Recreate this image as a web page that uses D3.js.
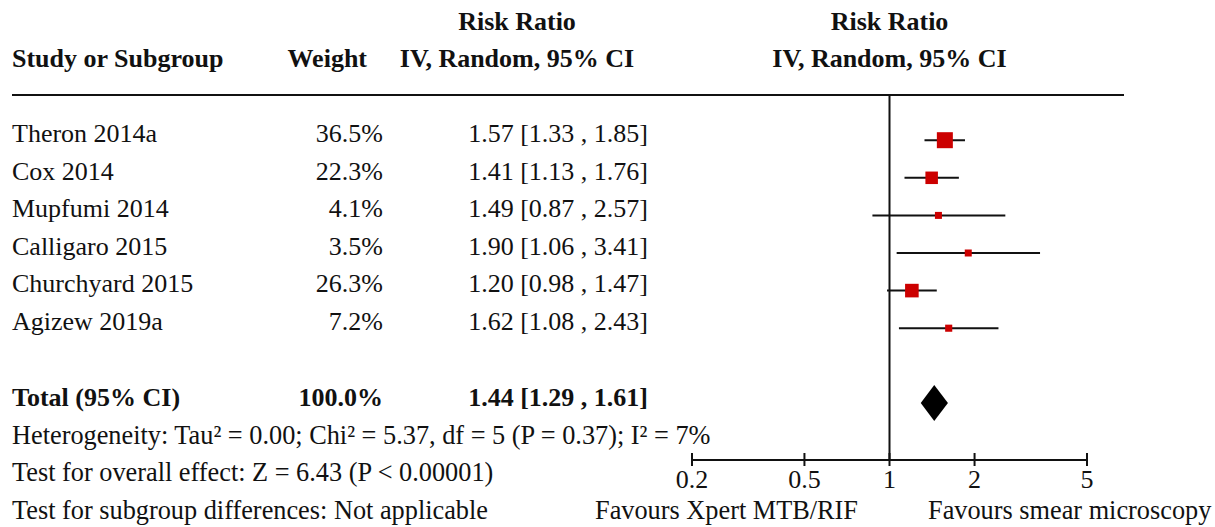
<!DOCTYPE html>
<html>
<head>
<meta charset="utf-8">
<script src="https://cdn.jsdelivr.net/npm/d3@7"></script>
<style>
  html, body { margin: 0; padding: 0; background: #fff; }
  svg text { font-family: "Liberation Serif", "Times New Roman", serif; fill: #111; }
</style>
</head>
<body>
<svg id="chart" width="1215" height="527"></svg>
<script>
// Study-level data: risk ratios (IV, random effects) with 95% CI
const studies = ["Theron 2014a", "Cox 2014", "Mupfumi 2014", "Calligaro 2015", "Churchyard 2015", "Agizew 2019a"];
const weights = [36.5, 22.3, 4.1, 3.5, 26.3, 7.2];
const rr      = [1.57, 1.41, 1.49, 1.90, 1.20, 1.62];
const ciLow   = [1.33, 1.13, 0.87, 1.06, 0.98, 1.08];
const ciHigh  = [1.85, 1.76, 2.57, 3.41, 1.47, 2.43];

// Pooled estimate
const totalWeight = 100.0;
const totalRR = 1.44, totalLow = 1.29, totalHigh = 1.61;

// Axis ticks
const ticks = [0.2, 0.5, 1, 2, 5];

const headerLines = ["Risk Ratio", "IV, Random, 95% CI"];
const heterogeneity = "Heterogeneity: Tau² = 0.00; Chi² = 5.37, df = 5 (P = 0.37); I² = 7%";
const overallTest = "Test for overall effect: Z = 6.43 (P < 0.00001)";
const subgroupTest = "Test for subgroup differences: Not applicable";
const favourLeft = "Favours Xpert MTB/RIF";
const favourRight = "Favours smear microscopy";

const svg = d3.select("#chart");
const FS = 26, FS_FOOT = 26.3;
const f2 = d3.format(".2f"), f1 = d3.format(".1f");

const x = d3.scaleLog().domain([0.2, 5]).range([692, 1087]);
const rowY = d3.scaleLinear().domain([0, 1]).range([142, 179.6]);
const size = d3.scaleSqrt().domain([0, 36.5]).range([0, 16]);

const axisY = 460, topLine = 95;

// Header
const hdr = svg.append("g").style("font-weight", "bold").style("font-size", FS + "px");
hdr.append("text").attr("x", 12).attr("y", 67).text("Study or Subgroup");
hdr.append("text").attr("x", 367).attr("y", 67).attr("text-anchor", "end").text("Weight");
hdr.append("text").attr("x", 517).attr("y", 30).attr("text-anchor", "middle").text(headerLines[0]);
hdr.append("text").attr("x", 517).attr("y", 67).attr("text-anchor", "middle").text(headerLines[1]);
hdr.append("text").attr("x", x(1)).attr("y", 30).attr("text-anchor", "middle").text(headerLines[0]);
hdr.append("text").attr("x", x(1)).attr("y", 67).attr("text-anchor", "middle").text(headerLines[1]);

svg.append("line").attr("x1", 12).attr("x2", 1124).attr("y1", topLine).attr("y2", topLine)
  .attr("stroke", "#111").attr("stroke-width", 2);

// Line of no effect
svg.append("line").attr("x1", x(1)).attr("x2", x(1)).attr("y1", topLine).attr("y2", axisY)
  .attr("stroke", "#111").attr("stroke-width", 2);

// Study rows
const rows = svg.append("g").style("font-size", FS + "px");
studies.forEach((s, i) => {
  const y = rowY(i);
  rows.append("text").attr("x", 12).attr("y", y).text(s);
  rows.append("text").attr("x", 383).attr("y", y).attr("text-anchor", "end").text(f1(weights[i]) + "%");
  rows.append("text").attr("x", 648).attr("y", y).attr("text-anchor", "end")
    .text(`${f2(rr[i])} [${f2(ciLow[i])} , ${f2(ciHigh[i])}]`);

  const cy = y - 1.8;
  svg.append("line").attr("x1", x(ciLow[i])).attr("x2", x(ciHigh[i])).attr("y1", cy).attr("y2", cy)
    .attr("stroke", "#111").attr("stroke-width", 2);
  const s2 = Math.max(7, size(weights[i]));
  svg.append("rect").attr("x", x(rr[i]) - s2 / 2).attr("y", cy - s2 / 2)
    .attr("width", s2).attr("height", s2).attr("fill", "#cc0000");
});

// Total row
const totY = 406;
const tot = svg.append("g").style("font-size", FS + "px").style("font-weight", "bold");
tot.append("text").attr("x", 12).attr("y", totY).text("Total (95% CI)");
tot.append("text").attr("x", 383).attr("y", totY).attr("text-anchor", "end").text(f1(totalWeight) + "%");
tot.append("text").attr("x", 648).attr("y", totY).attr("text-anchor", "end")
  .text(`${f2(totalRR)} [${f2(totalLow)} , ${f2(totalHigh)}]`);

const dy = totY - 3, dh = 18;
svg.append("path")
  .attr("d", `M${x(totalLow)},${dy} L${x(totalRR)},${dy - dh} L${x(totalHigh)},${dy} L${x(totalRR)},${dy + dh} Z`)
  .attr("fill", "#000");

// Footnotes
const foot = svg.append("g").style("font-size", FS_FOOT + "px");
foot.append("text").attr("x", 12).attr("y", 443.5).text(heterogeneity);
foot.append("text").attr("x", 12).attr("y", 481).text(overallTest);
foot.append("text").attr("x", 12).attr("y", 518.5).text(subgroupTest);

// Log axis
const axis = svg.append("g");
axis.append("line").attr("x1", x(0.2)).attr("x2", x(5)).attr("y1", axisY).attr("y2", axisY)
  .attr("stroke", "#111").attr("stroke-width", 2);
axis.selectAll(".tick").data(ticks).enter().append("line")
  .attr("x1", d => x(d)).attr("x2", d => x(d)).attr("y1", axisY - 7).attr("y2", axisY + 6)
  .attr("stroke", "#111").attr("stroke-width", 2);
axis.selectAll(".lbl").data(ticks).enter().append("text")
  .attr("x", d => x(d)).attr("y", 487.5).attr("text-anchor", "middle")
  .style("font-size", FS + "px").text(d => d);

foot.append("text").attr("x", 858).attr("y", 518.5).attr("text-anchor", "end").text(favourLeft);
foot.append("text").attr("x", 928).attr("y", 518.5).text(favourRight);
</script>
</body>
</html>
